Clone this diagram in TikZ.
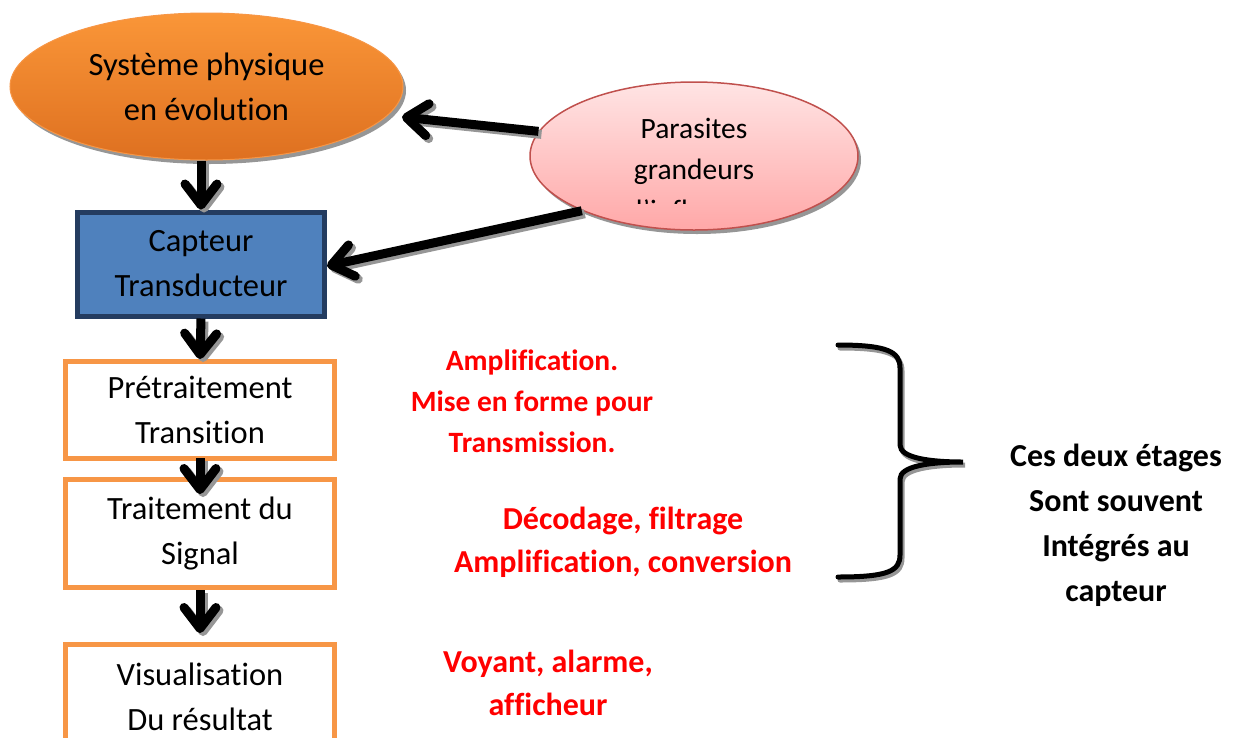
\documentclass[tikz,border=0pt]{standalone}
\usepackage{fontspec}
\setmainfont{Carlito}[Ligatures={TeX,CommonOff}]
\usetikzlibrary{arrows.meta,shapes.geometric,shadows}
\definecolor{orTop}{RGB}{250,150,56}
\definecolor{orBot}{RGB}{222,112,32}
\definecolor{orLine}{RGB}{247,150,70}
\definecolor{pkTop}{RGB}{255,228,228}
\definecolor{pkBot}{RGB}{255,168,168}
\definecolor{pkLine}{RGB}{192,80,77}
\definecolor{blFill}{RGB}{79,129,189}
\definecolor{blLine}{RGB}{36,60,96}
\definecolor{shd}{RGB}{150,150,150}
\tikzset{
  bigtxt/.style={font=\fontsize{32.5}{45}\selectfont, align=center},
  redtxt/.style={font=\fontsize{29.5}{41}\selectfont\bfseries, text=red, align=center},
  redbig/.style={font=\fontsize{32}{43}\selectfont\bfseries, text=red, align=center},
  notetxt/.style={font=\fontsize{32}{45}\selectfont\bfseries, align=center},
  stagebox/.style={draw=orLine, line width=5pt, fill=white, minimum width=269pt, inner sep=0pt, bigtxt},
  bigarrow/.style={line width=9pt, -{Straight Barb[round,length=21pt,width=32pt]}},
  arrshadow/.style={bigarrow, draw=shd, transform canvas={shift={(3pt,-3pt)}}},
  bracepath/.style={line width=5pt, line cap=round},
  braceshadow/.style={bracepath, draw=shd, transform canvas={shift={(2pt,-3pt)}}},
  shadowfill/.style={drop shadow={shadow xshift=3pt, shadow yshift=-4pt, fill=shd, opacity=1}}
}
\begin{document}
\begin{tikzpicture}[x=1pt,y=-1pt]
\useasboundingbox (0,0) rectangle (1234,737);
\clip (0,0) rectangle (1234,737);

% ellipses
\node[ellipse, shadowfill, draw=orLine, line width=1pt, top color=orTop, bottom color=orBot,
      minimum width=393pt, minimum height=147pt, inner sep=0pt, bigtxt] (sys) at (206.5,86.5)
      {Système physique\\en évolution};
\node[ellipse, shadowfill, draw=pkLine, line width=1.5pt, top color=pkTop, bottom color=pkBot,
      minimum width=328pt, minimum height=148pt, inner sep=0pt] (para) at (694,156) {};
\begin{scope}
  \clip (530,80) rectangle (860,203);
  \node[font=\fontsize{29.5}{41}\selectfont, align=center] (paratext) at (694,169)
        {Parasites\\grandeurs\\d'influence};
\end{scope}

% boxes
\node[draw=blLine, line width=5pt, fill=blFill, minimum width=247pt, minimum height=104pt,
      inner sep=0pt, bigtxt] (capteur) at (201,264) {Capteur\\Transducteur};
\node[stagebox, minimum height=97pt] (pre) at (200,410) {Prétraitement\\Transition};
\node[stagebox, minimum height=108pt] (trait) at (200,533.5) {Traitement du\\Signal};
\node[stagebox, minimum height=105pt] (vis) at (200,697) {Visualisation\\Du résultat};

% texts
\node[redtxt] (redA) at (532,401) {Amplification.\\Mise en forme pour\\Transmission.};
\node[redbig] (redB) at (623,542.5) {Décodage, filtrage\\Amplification, conversion};
\node[redbig] (redC) at (548,682.5) {Voyant, alarme,\\afficheur};
\node[notetxt] (note) at (1116,525) {Ces deux étages\\Sont souvent\\Intégrés au\\capteur};

\coordinate (tipA) at (402,117);

% arrow shadows
\draw[arrshadow] (capteur.north |- sys.south) -- (capteur.north);
\draw[arrshadow] (capteur.south) -- (pre.north);
\draw[arrshadow] ([yshift=3pt]pre.south) -- ([yshift=-17pt]trait.north);
\draw[arrshadow] (trait.south) -- ([yshift=9pt]vis.north);
\draw[arrshadow] (para.171) -- (tipA);
\draw[arrshadow] (para.206) -- ([yshift=-2pt]capteur.east);
% arrows
\draw[bigarrow] (capteur.north |- sys.south) -- (capteur.north);
\draw[bigarrow] (capteur.south) -- (pre.north);
\draw[bigarrow] ([yshift=3pt]pre.south) -- ([yshift=-17pt]trait.north);
\draw[bigarrow] (trait.south) -- ([yshift=9pt]vis.north);
\draw[bigarrow] (para.171) -- (tipA);
\draw[bigarrow] (para.206) -- ([yshift=-2pt]capteur.east);

% brace
\foreach \st in {braceshadow, bracepath}
  \draw[\st] (838,345) .. controls (888,345) and (900,352) .. (900,368) -- (900,445)
     .. controls (900,458) and (930,462) .. (963,462)
     .. controls (930,462) and (900,466) .. (900,479) -- (900,555)
     .. controls (900,571) and (888,577) .. (838,577);
\end{tikzpicture}
\end{document}
